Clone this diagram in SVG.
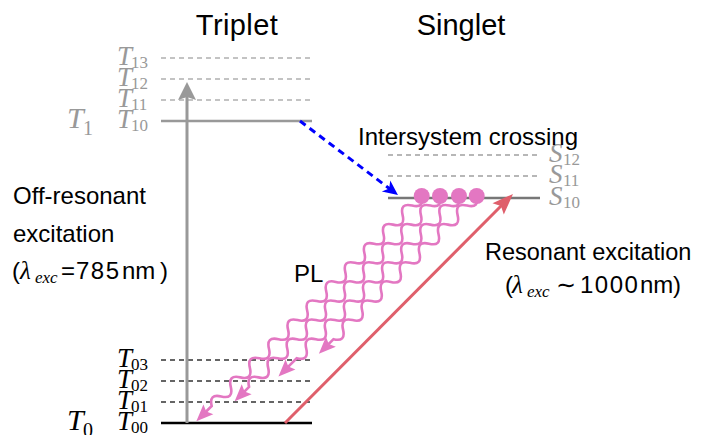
<svg xmlns="http://www.w3.org/2000/svg" width="701" height="435" viewBox="0 0 701 435">
<style>
.sans{font-family:"Liberation Sans",Arial,sans-serif;font-size:24px;fill:#000}
.title{font-family:"Liberation Sans",Arial,sans-serif;font-size:29px;fill:#000}
.lbl{font-family:"Liberation Serif","Times New Roman",serif;font-style:italic;font-size:27px}
.sub{font-family:"Liberation Serif","Times New Roman",serif;font-style:normal;font-size:17px}
.big{font-family:"Liberation Serif","Times New Roman",serif;font-style:italic;font-size:30px}
.bigsub{font-family:"Liberation Serif","Times New Roman",serif;font-style:normal;font-size:20px}
.grey{fill:#999}
.blk{fill:#000}
.dashT{stroke:#b0b0b0;stroke-width:1.5;stroke-dasharray:5 4;fill:none}
.dashS{stroke:#a0a0a0;stroke-width:1.5;stroke-dasharray:5 4;fill:none}
.dashB{stroke:#333;stroke-width:1.5;stroke-dasharray:5 4;fill:none}
.wave{stroke:#e377c2;stroke-width:2.6;fill:none;marker-end:url(#pk)}
</style>
<defs>
<marker id="pk" markerUnits="userSpaceOnUse" orient="auto" markerWidth="24" markerHeight="24" viewBox="-12 -12 24 24" refX="0" refY="0">
<path d="M-7,-7 L10,0 L-7,7 L-4,0 Z" fill="#e377c2"/>
</marker>
<marker id="rd" markerUnits="userSpaceOnUse" orient="auto" markerWidth="26" markerHeight="26" viewBox="-13 -13 26 26" refX="0" refY="0">
<path d="M-9,-8 L12,0 L-9,8 L-5,0 Z" fill="#df5f6b"/>
</marker>
<marker id="gy" markerUnits="userSpaceOnUse" orient="auto" markerWidth="26" markerHeight="26" viewBox="-13 -13 26 26" refX="0" refY="0">
<path d="M-6,-9 L12,0 L-6,9 L-3,0 Z" fill="#999"/>
</marker>
<marker id="bl" markerUnits="userSpaceOnUse" orient="auto" markerWidth="24" markerHeight="24" viewBox="-12 -12 24 24" refX="0" refY="0">
<path d="M-5,-7 L10,0 L-5,7 L-1,0 Z" fill="#0000ff"/>
</marker>
</defs>

<g id="levels">
<g id="T13"><line class="dashT" x1="161" y1="58" x2="312" y2="58"/><text class="lbl grey" x="117" y="65">T<tspan class="sub" x="131" y="68">13</tspan></text></g>
<g id="T12"><line class="dashT" x1="161" y1="79" x2="312" y2="79"/><text class="lbl grey" x="117" y="86">T<tspan class="sub" x="131" y="89">12</tspan></text></g>
<g id="T11"><line class="dashT" x1="161" y1="100" x2="312" y2="100"/><text class="lbl grey" x="117" y="107">T<tspan class="sub" x="131" y="110">11</tspan></text></g>
<g id="T10"><line stroke="#999" stroke-width="2.5" x1="161" y1="121" x2="312" y2="121"/><text class="lbl grey" x="117" y="128">T<tspan class="sub" x="131" y="131">10</tspan></text></g>
<g id="T1"><text class="big grey" x="67" y="128">T<tspan class="bigsub" x="83" y="135">1</tspan></text></g>

<g id="T03"><line class="dashB" x1="161" y1="360" x2="312" y2="360"/><text class="lbl blk" x="117" y="367">T<tspan class="sub" x="131" y="370">03</tspan></text></g>
<g id="T02"><line class="dashB" x1="161" y1="381" x2="312" y2="381"/><text class="lbl blk" x="117" y="388">T<tspan class="sub" x="131" y="391">02</tspan></text></g>
<g id="T01"><line class="dashB" x1="161" y1="402" x2="312" y2="402"/><text class="lbl blk" x="117" y="409">T<tspan class="sub" x="131" y="412">01</tspan></text></g>
<g id="T00"><line stroke="#000" stroke-width="2.5" x1="161" y1="423" x2="312" y2="423"/><text class="lbl blk" x="117" y="430">T<tspan class="sub" x="131" y="433">00</tspan></text></g>
<g id="T0"><text class="big blk" x="67" y="430">T<tspan class="bigsub" x="83" y="437">0</tspan></text></g>

<g id="S12"><line class="dashS" x1="388" y1="155" x2="540" y2="155"/><text class="lbl grey" x="549" y="162">S<tspan class="sub" x="563" y="165">12</tspan></text></g>
<g id="S11"><line class="dashS" x1="388" y1="176" x2="540" y2="176"/><text class="lbl grey" x="549" y="183">S<tspan class="sub" x="563" y="186">11</tspan></text></g>
<g id="S10"><line stroke="#777" stroke-width="2.5" x1="388" y1="198" x2="540" y2="198"/><text class="lbl grey" x="549" y="205">S<tspan class="sub" x="563" y="208">10</tspan></text></g>
</g>

<g id="connectors">
<line id="offres-arrow" x1="187" y1="423" x2="187" y2="94" stroke="#999" stroke-width="3" marker-end="url(#gy)"/>
<line id="isc-arrow" x1="300" y1="121" x2="390" y2="189" stroke="#0000ff" stroke-width="3" stroke-dasharray="7 5" marker-end="url(#bl)"/>
<line id="res-arrow" x1="285" y1="423" x2="504.5" y2="202.5" stroke="#df5f6b" stroke-width="3" marker-end="url(#rd)"/>
<g id="pl-waves">
<path class="wave" transform="translate(421.7,196) rotate(135)" d="M0,0 q6.75,-11 13.5,0 t13.5,0 t13.5,0 t13.5,0 t13.5,0 t13.5,0 t13.5,0 t13.5,0 t13.5,0 t13.5,0 t13.5,0 t13.5,0 t13.5,0 t13.5,0 t13.5,0 t13.5,0 t13.5,0 t13.5,0 t13.5,0 t13.5,0 t13.5,0 t13.5,0 h11.7"/>
<path class="wave" transform="translate(440,196) rotate(135)" d="M0,0 q6.75,-11 13.5,0 t13.5,0 t13.5,0 t13.5,0 t13.5,0 t13.5,0 t13.5,0 t13.5,0 t13.5,0 t13.5,0 t13.5,0 t13.5,0 t13.5,0 t13.5,0 t13.5,0 t13.5,0 t13.5,0 t13.5,0 t13.5,0 t13.5,0 h10.4"/>
<path class="wave" transform="translate(459,196) rotate(135)" d="M0,0 q6.75,-11 13.5,0 t13.5,0 t13.5,0 t13.5,0 t13.5,0 t13.5,0 t13.5,0 t13.5,0 t13.5,0 t13.5,0 t13.5,0 t13.5,0 t13.5,0 t13.5,0 t13.5,0 t13.5,0 t13.5,0 h15.8"/>
<path class="wave" transform="translate(476.7,196) rotate(135)" d="M0,0 q6.75,-11 13.5,0 t13.5,0 t13.5,0 t13.5,0 t13.5,0 t13.5,0 t13.5,0 t13.5,0 t13.5,0 t13.5,0 t13.5,0 t13.5,0 t13.5,0 t13.5,0 t13.5,0 h10.7"/>
</g>
</g>

<g id="excitons" fill="#e377c2">
<circle cx="421.7" cy="196" r="8"/>
<circle cx="440" cy="196" r="8"/>
<circle cx="459" cy="196" r="8"/>
<circle cx="476.7" cy="196" r="8"/>
</g>

<g id="labels">
<text class="title" x="237" y="35" text-anchor="middle" letter-spacing="0.4">Triplet</text>
<text class="title" x="461" y="35" text-anchor="middle">Singlet</text>
<text class="sans" x="358" y="145">Intersystem crossing</text>
<text class="sans" x="13" y="204">Off-resonant</text>
<text class="sans" x="13" y="242">excitation</text>
<text class="sans" x="12" y="279">(<tspan class="lbl" x="20" style="font-size:25px">λ</tspan><tspan class="sub" style="font-style:italic" x="35" y="283">exc</tspan><tspan x="61" y="279">=</tspan><tspan x="76" letter-spacing="1.5">785</tspan><tspan x="122">nm</tspan><tspan x="160">)</tspan></text>
<text class="sans" x="294" y="282">PL</text>
<text class="sans" x="485" y="260" style="font-size:23.5px">Resonant excitation</text>
<text class="sans" x="505" y="293">(<tspan class="lbl" x="512" style="font-size:25px">λ</tspan><tspan class="sub" style="font-style:italic" x="527" y="297">exc</tspan><tspan x="556" y="293">∼</tspan><tspan x="580" letter-spacing="1.5">1000</tspan><tspan x="640">nm</tspan><tspan x="673">)</tspan></text>
</g>
</svg>
